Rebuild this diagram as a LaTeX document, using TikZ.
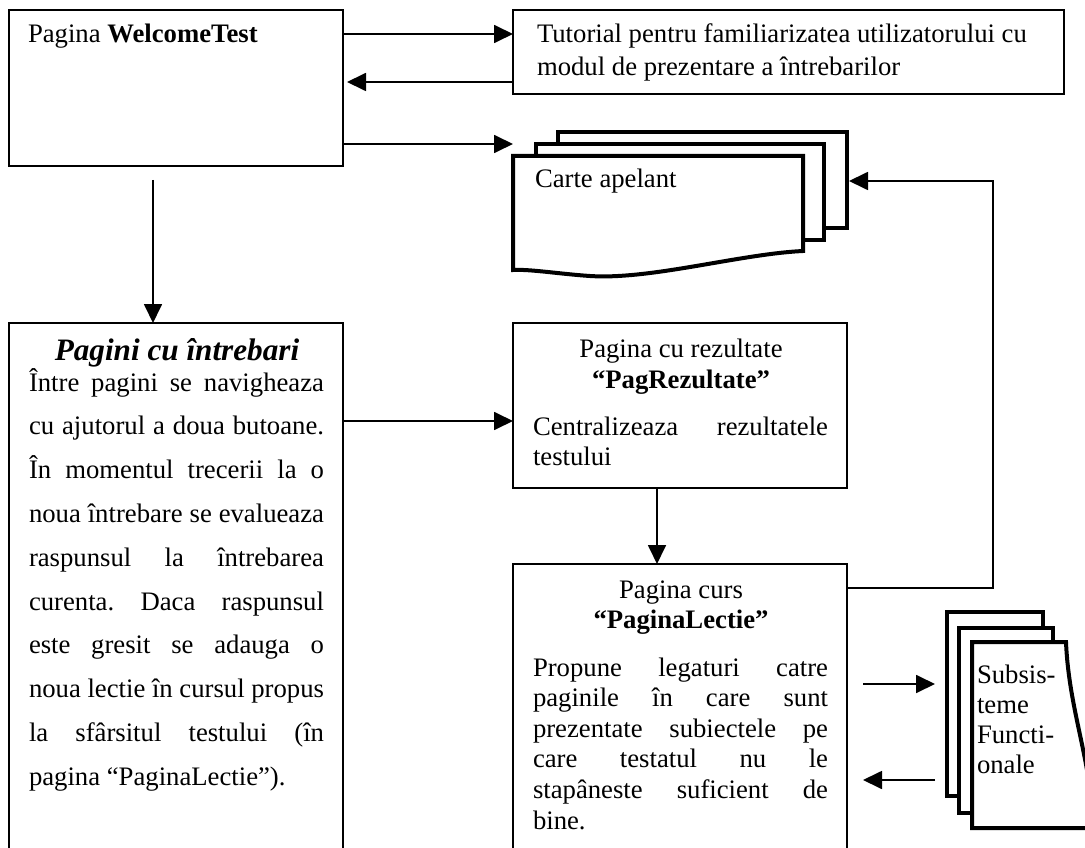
\documentclass[tikz,border=0pt]{standalone}
\usepackage{fontspec}
\setmainfont{Liberation Serif}
\usetikzlibrary{arrows.meta}
\frenchspacing
\newcommand{\jl}[1]{\makebox[295pt][s]{#1}}
\tikzset{
  box/.style={draw, line width=1.8pt, rectangle, inner sep=0pt, outer sep=0pt, anchor=north west},
  area/.style={rectangle, inner sep=0pt, outer sep=0pt, anchor=north west},
  arr/.style={line width=1.8pt, -{Triangle[length=19pt,width=18pt]}},
  doc/.style={line width=4pt, fill=white, line join=miter},
  txt/.style={inner sep=0pt, outer sep=0pt, anchor=base west, font=\fontsize{26.7pt}{32pt}\selectfont},
  ctxt/.style={txt, anchor=base},
  ttl/.style={ctxt, font=\fontsize{31.2pt}{36pt}\selectfont\bfseries\itshape},
}
\begin{document}
\begin{tikzpicture}[x=1pt,y=-1pt]
\useasboundingbox (0,0) rectangle (1085,848);
% boxes
\node[box, minimum width=334pt, minimum height=156pt] (welcome) at (9,10) {};
\node[box, minimum width=551pt, minimum height=84pt] (tut) at (513,10) {};
\node[box, minimum width=334pt, minimum height=545pt] (pagini) at (9,323) {};
\node[box, minimum width=334pt, minimum height=165pt] (rez) at (513,323) {};
\node[box, minimum width=334pt, minimum height=300pt] (lectie) at (513,564) {};
% Carte apelant stack
\node[area, minimum width=336pt, minimum height=138pt] (carte) at (513,132) {};
\draw[doc] (558,132) rectangle (847,228);
\draw[doc] (536,144) rectangle (824,240);
\draw[doc] (513,156) -- (803,156) -- (803,251)
  .. controls (740,254) and (650,280) .. (590,276)
  .. controls (560,274) and (530,269) .. (513,270) -- cycle;
\node[txt] (cartetxt) at (535,187) {Carte apelant};
% Subsisteme stack
\node[area, minimum width=140pt, minimum height=220pt] (subs) at (945,610) {};
\draw[doc] (947,612) rectangle (1043,796);
\draw[doc] (959,628) rectangle (1053,813);
\draw[doc] (972,642) -- (1066,642)
  .. controls (1068,690) and (1080,730) .. (1087,770) -- (1090,828) -- (972,828) -- cycle;
\node[txt] (s1) at (977,683) {Subsis-};
\node[txt] (s2) at (977,713) {teme};
\node[txt] (s3) at (977,743) {Functi-};
\node[txt] (s4) at (977,773) {onale};
% texts
\node[txt] (wt) at (28,43) {Pagina \textbf{WelcomeTest}};
\node[txt] (t1) at (537,43) {Tutorial pentru familiarizatea utilizatorului cu};
\node[txt] (t2) at (537,76) {modul de prezentare a întrebarilor};
\node[ttl] (ptitle) at (177,360) {Pagini cu întrebari};
\node[txt] (p1) at (29,391) {\jl{Între pagini se navigheaza}};
\node[txt] (p2) at (29,434.8) {\jl{cu ajutorul a doua butoane.}};
\node[txt] (p3) at (29,478.6) {\jl{În momentul trecerii la o}};
\node[txt] (p4) at (29,522.4) {\jl{noua întrebare se evalueaza}};
\node[txt] (p5) at (29,566.2) {\jl{raspunsul la întrebarea}};
\node[txt] (p6) at (29,610) {\jl{curenta. Daca raspunsul}};
\node[txt] (p7) at (29,653.8) {\jl{este gresit se adauga o}};
\node[txt] (p8) at (29,697.6) {\jl{noua lectie în cursul propus}};
\node[txt] (p9) at (29,741.4) {\jl{la sfârsitul testului (în}};
\node[txt] (p10) at (29,785.2) {pagina “PaginaLectie”).};
\node[ctxt] (r1) at (681,357) {Pagina cu rezultate};
\node[ctxt] (r2) at (681,388) {\textbf{“PagRezultate”}};
\node[txt] (r3) at (533,435) {\jl{Centralizeaza rezultatele}};
\node[txt] (r4) at (533,465) {testului};
\node[ctxt] (l1) at (681,598) {Pagina curs};
\node[ctxt] (l2) at (681,628) {\textbf{“PaginaLectie”}};
\node[txt] (l3) at (533,676) {\jl{Propune legaturi catre}};
\node[txt] (l4) at (533,706.6) {\jl{paginile în care sunt}};
\node[txt] (l5) at (533,737.2) {\jl{prezentate subiectele pe}};
\node[txt] (l6) at (533,767.8) {\jl{care testatul nu le}};
\node[txt] (l7) at (533,798.4) {\jl{stapâneste suficient de}};
\node[txt] (l8) at (533,829) {bine.};
% connectors
\draw[arr] ([yshift=-24pt]welcome.north east) -- ([yshift=-24pt]tut.north west);
\draw[arr] ([yshift=-72pt]tut.north west) -- ([shift={(4pt,-72pt)}]welcome.north east);
\draw[arr] ([yshift=-134pt]welcome.north east) -- ([yshift=-12pt]carte.north west);
\draw[arr] ([shift={(144pt,-14pt)}]welcome.south west) -- ([xshift=144pt]pagini.north west);
\draw[arr] ([yshift=-98pt]pagini.north east) -- ([yshift=-98pt]rez.north west);
\draw[arr] ([xshift=144pt]rez.south west) -- ([xshift=144pt]lectie.north west);
\coordinate (corner) at (993,181);
\draw[arr] ([yshift=-24pt]lectie.north east) -| (corner) -- (carte.east |- corner);
\draw[arr] ([shift={(16pt,-120pt)}]lectie.north east) -- ([shift={(-10pt,-74pt)}]subs.north west);
\draw[arr] ([shift={(-10pt,-170pt)}]subs.north west) -- ([shift={(16pt,-216pt)}]lectie.north east);
\end{tikzpicture}
\end{document}
